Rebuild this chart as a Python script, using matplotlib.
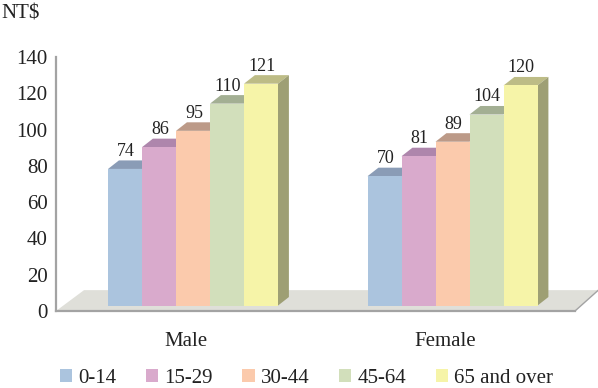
import matplotlib
matplotlib.use("Agg")
import matplotlib.pyplot as plt
from matplotlib.patches import Patch, Polygon

plt.rcParams['font.family'] = ['Liberation Serif', 'DejaVu Serif']

groups = ["Male", "Female"]
ages = ["0-14", "15-29", "30-44", "45-64", "65 and over"]
male = [74, 86, 95, 110, 121]
female = [70, 81, 89, 104, 120]
y_ticks = [0, 20, 40, 60, 80, 100, 120, 140]

front_colors = ["#ABC4DE", "#D9AACC", "#FBCAAC", "#D2DFBB", "#F6F4A8"]
top_colors = ["#8A9CB6", "#AE86AC", "#BC9A88", "#A3AF93", "#BDBC86"]
side_color = "#9E9F74"
floor_color = "#DFDFD9"
wall_color = "#A3A3A3"
text_color = "#222222"

W, H = 598, 388
fig = plt.figure(figsize=(W / 100, H / 100), dpi=100)
ax = fig.add_axes([56 / W, 1 - 311 / H, 519 / W, 254 / H])
ax.set_xlim(-0.5, 1.5)
ax.set_ylim(0, 140)

bar_w = 0.131
shift = 0.028
dx = 0.042      # depth of the fake 3d
dy = 4.7
base = 3
lift = 1.3

# floor
ax.add_patch(Polygon([(-0.5, 0), (-0.392, 11.5), (1.59, 11.5), (1.5, 0)],
                     closed=True, fc=floor_color, ec="none", clip_on=False, zorder=1))
ax.plot([1.5, 1.59], [0, 11.5], color=wall_color, lw=1.0, clip_on=False, zorder=2)

for g, vals in enumerate([male, female]):
    for i, v in enumerate(vals):
        x = g + shift + (i - 2) * bar_w
        top = base + v + lift
        ax.bar(x, v + lift, bar_w, bottom=base, color=front_colors[i], zorder=4)
        ax.add_patch(Polygon([(x - bar_w / 2, top), (x - bar_w / 2 + dx, top + dy),
                              (x + bar_w / 2 + dx, top + dy), (x + bar_w / 2, top)],
                             closed=True, fc=top_colors[i], ec="none", zorder=3, clip_on=False))
        if i == len(vals) - 1:
            ax.add_patch(Polygon([(x + bar_w / 2, base), (x + bar_w / 2 + dx, base + dy),
                                  (x + bar_w / 2 + dx, top + dy), (x + bar_w / 2, top)],
                                 closed=True, fc=side_color, ec="none", zorder=3))
        ax.text(x + dx * 0.08, top + dy + 0.3, str(v), ha="center", va="bottom",
                fontsize=13, color=text_color, zorder=5, clip_on=False)

for s in ["top", "right"]:
    ax.spines[s].set_visible(False)
for s in ["left", "bottom"]:
    ax.spines[s].set_color(wall_color)
    ax.spines[s].set_linewidth(1.6)

ax.set_xticks([0, 1], groups)
ax.set_yticks(y_ticks)
ax.tick_params(axis="x", length=0, pad=15, labelsize=15, labelcolor=text_color)
ax.tick_params(axis="y", length=0, pad=6, labelsize=15, labelcolor=text_color)

fig.text(1 / W, 1 - 14 / H, "NT$", fontsize=15, color=text_color, ha="left", va="center")

handles = [Patch(fc=c, ec="none") for c in front_colors]
fig.legend(handles, ages, ncol=5, loc="lower left", bbox_to_anchor=(60 / W, 0.0),
           frameon=False, fontsize=15, labelcolor=text_color, borderpad=0, borderaxespad=0,
           handlelength=0.58, handleheight=0.6, handletextpad=0.3, columnspacing=1.42)

fig.savefig("out.png", dpi=100)
